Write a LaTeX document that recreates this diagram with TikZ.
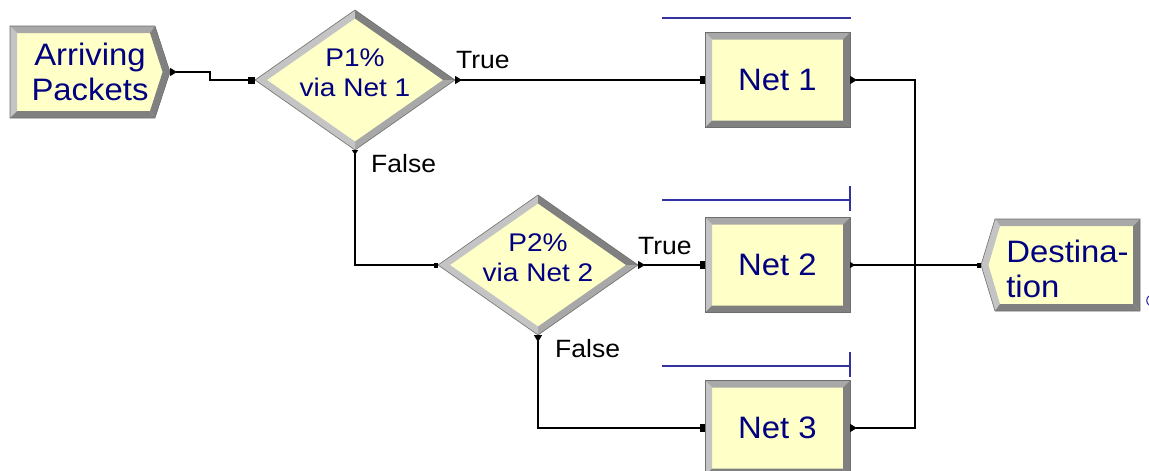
\documentclass[tikz,border=0pt]{standalone}
\usepackage{fontspec}
\newfontfamily\arena[FakeStretch=1.06]{Liberation Sans}
\newfontfamily\arenawide[FakeStretch=1.1]{Liberation Sans}
\usetikzlibrary{calc,arrows.meta,shapes.geometric,backgrounds}
\definecolor{boxfill}{RGB}{255,255,200}
\definecolor{bevlight}{RGB}{196,196,196}
\definecolor{bevmid}{RGB}{168,168,168}
\definecolor{bevdark}{RGB}{128,128,128}
\definecolor{bevline}{RGB}{110,110,110}
\definecolor{navytext}{RGB}{0,0,128}
\definecolor{queueblue}{RGB}{50,50,160}
\newcommand\bigtxt{\arena\fontsize{31}{35}\selectfont}
\newcommand\midtxt{\arenawide\fontsize{25.5}{30}\selectfont}
\newcommand\lbltxt{\arena\fontsize{25}{30}\selectfont}
\newcommand\lowstrut[1]{\rule[-#1]{0pt}{1pt}}
\newcommand\highstrut[1]{\rule{0pt}{#1}}
% rectangle with 3D bevel
\newcommand\bevbox[1]{%
 \fill[boxfill] (#1.north west) rectangle (#1.south east);
 \fill[bevmid] (#1.north west) -- (#1.north east) -- ($(#1.north east)+(-7pt,-7pt)$) -- ($(#1.north west)+(7pt,-7pt)$) -- cycle;
 \fill[bevlight] (#1.north west) -- ($(#1.north west)+(7pt,-7pt)$) -- ($(#1.south west)+(7pt,7pt)$) -- (#1.south west) -- cycle;
 \fill[bevdark] (#1.north east) -- (#1.south east) -- ($(#1.south east)+(-7pt,7pt)$) -- ($(#1.north east)+(-7pt,-7pt)$) -- cycle;
 \fill[bevdark] (#1.south west) -- (#1.south east) -- ($(#1.south east)+(-7pt,7pt)$) -- ($(#1.south west)+(7pt,7pt)$) -- cycle;
 \draw[bevline,line width=0.6pt] (#1.north west) rectangle (#1.south east);
}
% diamond with 3D bevel
\newcommand\bevdiamond[1]{%
 \fill[boxfill] (#1.west) -- (#1.north) -- (#1.east) -- (#1.south) -- cycle;
 \fill[bevlight] (#1.west) -- (#1.north) -- ($(#1.north)+(0pt,-8.5pt)$) -- ($(#1.west)+(12pt,0pt)$) -- cycle;
 \fill[bevdark] (#1.north) -- (#1.east) -- ($(#1.east)+(-12pt,0pt)$) -- ($(#1.north)+(0pt,-8.5pt)$) -- cycle;
 \fill[bevmid] (#1.east) -- (#1.south) -- ($(#1.south)+(0pt,8.5pt)$) -- ($(#1.east)+(-12pt,0pt)$) -- cycle;
 \fill[bevlight] (#1.south) -- (#1.west) -- ($(#1.west)+(12pt,0pt)$) -- ($(#1.south)+(0pt,8.5pt)$) -- cycle;
 \draw[bevline,line width=0.6pt] (#1.west) -- (#1.north) -- (#1.east) -- (#1.south) -- cycle;
}
\begin{document}
\begin{tikzpicture}[x=1pt,y=-1pt,
  netbox/.style={rectangle, minimum width=145pt, minimum height=95pt, inner sep=0pt, outer sep=0pt, font=\bigtxt, text=navytext},
  srcbox/.style={rectangle, minimum width=160pt, minimum height=92pt, inner sep=0pt, outer sep=0pt, align=center, font=\bigtxt, text=navytext},
  dstbox/.style={rectangle, minimum width=145pt, minimum height=92pt, inner sep=0pt, outer sep=0pt, align=left, font=\bigtxt, text=navytext},
  decide/.style={diamond, aspect=1.43, minimum width=200pt, minimum height=140pt, inner sep=0pt, outer sep=0pt, align=center, font=\midtxt, text=navytext},
  lbl/.style={font=\lbltxt, text=black, inner sep=0pt, anchor=base west},
  conn/.style={draw=black, line width=1.1pt},
  exitin/.style={arrows={{Triangle[reversed,length=7pt,width=8pt]}-{Square[length=5pt,width=8pt]}}},
  exitsmall/.style={arrows={{Triangle[reversed,length=5pt,width=6pt]}-{Square[length=4pt,width=5pt]}}},
  exitonly/.style={arrows={{Triangle[reversed,length=7pt,width=8pt]}-}},
  queue/.style={draw=queueblue, line width=1.1pt}
]
\useasboundingbox (0,0) rectangle (1149,471);
% nodes
\node[srcbox] (arr) at (90,72) {Arriving\\Packets};
\node[decide] (d1) at (355,80) {P1\%\\via Net 1\lowstrut{14.5pt}};
\node[decide] (d2) at (538,265) {P2\%\\via Net 2\lowstrut{14.5pt}};
\node[netbox] (n1) at (777.5,80) {Net 1};
\node[netbox] (n2) at (777.5,265) {Net 2};
\node[netbox] (n3) at (777.5,428) {Net 3};
\node[dstbox] (dst) at (1067.5,265) {\highstrut{30pt}Destina-\\tion};
\coordinate (dstin) at ($(dst.west)+(-14pt,0pt)$);
\coordinate (jn) at (915,265);
% labels
\node[lbl] (t1) at (456,68) {True};
\node[lbl] (f1) at (371,172) {False};
\node[lbl] (t2) at (638,254) {True};
\node[lbl] (f2) at (555,357) {False};
% shapes on background
\begin{scope}[on background layer]
 \fill[boxfill] (arr.north west) -- ($(arr.north east)+(-15pt,0pt)$) -- (arr.east) -- ($(arr.south east)+(-15pt,0pt)$) -- (arr.south west) -- cycle;
 \fill[bevmid] (arr.north west) -- ($(arr.north east)+(-15pt,0pt)$) -- ($(arr.north east)+(-20pt,-7pt)$) -- ($(arr.north west)+(7pt,-7pt)$) -- cycle;
 \fill[bevlight] (arr.north west) -- ($(arr.north west)+(7pt,-7pt)$) -- ($(arr.south west)+(7pt,7pt)$) -- (arr.south west) -- cycle;
 \fill[bevdark] ($(arr.north east)+(-15pt,0pt)$) -- (arr.east) -- ($(arr.east)+(-7.4pt,0pt)$) -- ($(arr.north east)+(-20pt,-7pt)$) -- cycle;
 \fill[bevdark] (arr.east) -- ($(arr.south east)+(-15pt,0pt)$) -- ($(arr.south east)+(-20pt,7pt)$) -- ($(arr.east)+(-7.4pt,0pt)$) -- cycle;
 \fill[bevdark] (arr.south west) -- ($(arr.south east)+(-15pt,0pt)$) -- ($(arr.south east)+(-20pt,7pt)$) -- ($(arr.south west)+(7pt,7pt)$) -- cycle;
 \draw[bevline,line width=0.6pt] (arr.north west) -- ($(arr.north east)+(-15pt,0pt)$) -- (arr.east) -- ($(arr.south east)+(-15pt,0pt)$) -- (arr.south west) -- cycle;
 \bevdiamond{d1}
 \bevdiamond{d2}
 \bevbox{n1}
 \bevbox{n2}
 \bevbox{n3}
 \fill[boxfill] (dst.north west) -- (dst.north east) -- (dst.south east) -- (dst.south west) -- (dstin) -- cycle;
 \fill[bevmid] (dst.north west) -- (dst.north east) -- ($(dst.north east)+(-7pt,-7pt)$) -- ($(dst.north west)+(5pt,-7pt)$) -- cycle;
 \fill[bevlight] (dst.north west) -- (dstin) -- ($(dstin)+(7.4pt,0pt)$) -- ($(dst.north west)+(5pt,-7pt)$) -- cycle;
 \fill[bevlight] (dstin) -- (dst.south west) -- ($(dst.south west)+(5pt,7pt)$) -- ($(dstin)+(7.4pt,0pt)$) -- cycle;
 \fill[bevdark] (dst.north east) -- (dst.south east) -- ($(dst.south east)+(-7pt,7pt)$) -- ($(dst.north east)+(-7pt,-7pt)$) -- cycle;
 \fill[bevdark] (dst.south west) -- (dst.south east) -- ($(dst.south east)+(-7pt,7pt)$) -- ($(dst.south west)+(5pt,7pt)$) -- cycle;
 \draw[bevline,line width=0.6pt] (dst.north west) -- (dst.north east) -- (dst.south east) -- (dst.south west) -- (dstin) -- cycle;
\end{scope}
% queue lines
\draw[queue] (662,18) -- (851,18);
\draw[queue] (662,200) -- (850,200) (850,186) -- (850,211);
\draw[queue] (662,366) -- (850,366) (850,352) -- (850,377);
\draw[queue] (1149,296) .. controls (1146,298) and (1146,303) .. (1149,305);
% connectors
\draw[conn, arrows={{Triangle[reversed,length=7pt,width=8pt]}-{Square[length=7pt,width=7pt]}}] (arr.east) -- ++(40,0) |- (d1.west);
\draw[conn, exitin] (d1.east) -- (n1.west);
\draw[conn, exitsmall] (d1.south) |- (d2.west);
\draw[conn, exitin] (d2.east) -- (n2.west);
\draw[conn, exitin] (d2.south) |- (n3.west);
\draw[conn, exitonly] (n1.east) -| (jn) -- (dstin);
\draw[conn, exitsmall] (n2.east) -- (dstin);
\draw[conn, exitonly] (n3.east) -| (jn);
\end{tikzpicture}
\end{document}
